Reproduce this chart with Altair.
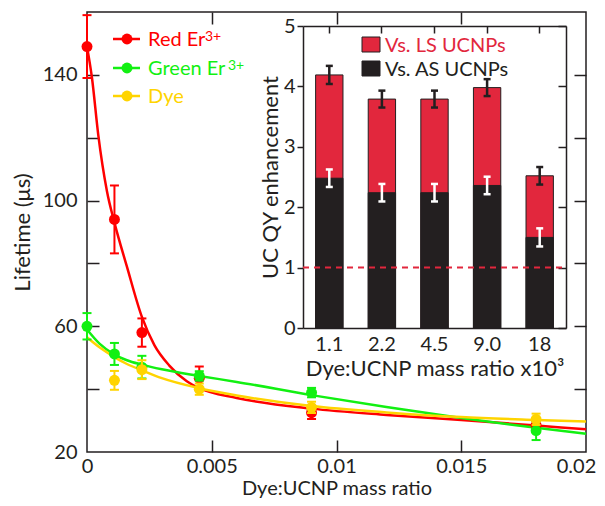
import altair as alt
import pandas as pd

FONT = "Lato"
LFS = 20   # tick labels
TFS = 22   # axis titles
DARK = "#231f20"
RED = "#ff0000"
GREEN = "#12f012"
YELLOW = "#ffd400"
BAR_RED = "#e2273d"

W, H = 499, 440

# ---------------- main panel data ----------------
x_points = [0.0, 0.0011, 0.0022, 0.0045, 0.009, 0.018]
red_life = [149.0, 94.0, 58.0, 43.5, 32.5, 28.5]
red_err = [10.0, 10.8, 4.5, 3.7, 2.0, 1.5]
green_life = [60.0, 51.2, 47.0, 44.2, 38.9, 26.8]
green_err = [4.2, 3.5, 3.6, 1.5, 1.5, 3.0]
dye_x = [0.0011, 0.0022, 0.0045, 0.009, 0.018]
dye_life = [42.8, 46.2, 40.0, 34.2, 30.4]
dye_err = [3.0, 3.0, 1.8, 1.8, 1.8]

red_fit_x = [0, 0.0002, 0.00045, 0.0008, 0.0011, 0.0016, 0.0022, 0.0027, 0.0033,
             0.004, 0.0045, 0.006, 0.009, 0.012, 0.015, 0.018, 0.02]
red_fit_y = [149, 139, 121, 103, 93, 79, 63, 54, 47.5, 42.5, 40.3, 37.2, 33.8,
             31.8, 30.2, 28.4, 27.2]
green_fit_x = [0, 0.0005, 0.0011, 0.0016, 0.0022, 0.003, 0.0045, 0.006, 0.009,
               0.012, 0.015, 0.018, 0.02]
green_fit_y = [59, 54.5, 51, 49.2, 47.8, 46.3, 44.2, 42.3, 38.1, 34.3, 30.8, 27.7, 25.8]
dye_fit_x = [0, 0.0005, 0.0011, 0.0016, 0.0022, 0.003, 0.0045, 0.006, 0.009,
             0.012, 0.015, 0.018, 0.02]
dye_fit_y = [56.5, 53.3, 50.2, 48, 46, 43.5, 40.3, 38, 34.6, 32.6, 31.1, 30.2, 29.7]

legend_labels = ["Red Er", "Green Er", "Dye"]
legend_sup = ["3+", "3+", ""]
legend_colors = [RED, GREEN, YELLOW]

# ---------------- inset data ----------------
ratio_labels = ["1.1", "2.2", "4.5", "9.0", "18"]
vs_ls = [4.19, 3.79, 3.79, 3.98, 2.52]
vs_ls_err = [0.15, 0.14, 0.14, 0.14, 0.145]
vs_as = [2.48, 2.24, 2.24, 2.36, 1.50]
vs_as_err = [0.145, 0.145, 0.145, 0.145, 0.15]
inset_legend = ["Vs. LS UCNPs", "Vs. AS UCNPs"]
reference_level = [1.0]

# ---------------- helpers ----------------
def axis(**kw):
    base = dict(grid=False, labelFont=FONT, labelFontSize=LFS, labelColor=DARK,
                titleFont=FONT, titleFontSize=TFS, titleFontWeight="normal",
                titleColor=DARK, domainColor=DARK, tickColor=DARK,
                labelOverlap=False, labelFlush=False)
    base.update(kw)
    return alt.Axis(**base)


def tick_axis(orient, offset, values, size, domain=False):
    return axis(orient=orient, offset=offset, values=values, labels=False,
                domain=domain, domainWidth=1.5, ticks=True, tickSize=size,
                tickWidth=1.5, title=None)


MX = alt.Scale(domain=[0, 0.02], nice=False, zero=False)
MY = alt.Scale(domain=[20, 160], nice=False, zero=False)
IX = alt.Scale(domain=ratio_labels, range=[216, 479], paddingInner=0.48, paddingOuter=0.24)
IY = alt.Scale(domain=[0, 5], range=[316, 14], nice=False)

xt = [0.005, 0.01, 0.015]
yt = [40, 60, 80, 100, 120, 140]

layers = []

# fit curves (carry the main axes)
fits = [
    (red_fit_x, red_fit_y, RED,
     axis(orient="bottom", values=[0, 0.005, 0.01, 0.015, 0.02], format="~g",
          ticks=False, tickSize=0, domain=False, labelPadding=4, titlePadding=2,
          titleFontSize=20,
          labelOffset={"expr": "datum.value >= 0.02 ? -10 : 0"}),
     axis(orient="left", values=[20, 60, 100, 140], ticks=False, tickSize=0,
          domain=False, labelPadding=10, titlePadding=8),
     "Dye:UCNP mass ratio", "Lifetime (\u03bcs)"),
    (green_fit_x, green_fit_y, GREEN,
     tick_axis("bottom", -H, xt, 12), tick_axis("right", -W, yt, 12), None, None),
    (dye_fit_x, dye_fit_y, YELLOW,
     tick_axis("top", -H, xt, 12), tick_axis("left", -W, yt, 12), None, None),
]
for fx, fy, col, ax_x, ax_y, tx, ty in fits:
    df = pd.DataFrame({"x": fx, "y": fy})
    layers.append(
        alt.Chart(df).mark_line(color=col, strokeWidth=2.5, interpolate="monotone").encode(
            x=alt.X("x:Q", scale=MX, axis=ax_x, title=tx),
            y=alt.Y("y:Q", scale=MY, axis=ax_y, title=ty),
        )
    )


def error_layers(xs, vals, errs, col, xscale, yscale, xtype, cap, sw):
    df = pd.DataFrame({"x": xs, "lo": [v - e for v, e in zip(vals, errs)],
                       "hi": [v + e for v, e in zip(vals, errs)]})
    stem = alt.Chart(df).mark_rule(color=col, strokeWidth=sw).encode(
        x=alt.X("x:" + xtype, scale=xscale, axis=None),
        y=alt.Y("lo:Q", scale=yscale, axis=None),
        y2="hi:Q",
    )
    caps_df = pd.DataFrame({"x": list(df["x"]) * 2, "v": list(df["lo"]) + list(df["hi"])})
    caps = alt.Chart(caps_df).mark_point(shape="M-1,0L1,0", size=cap * cap, filled=False,
                                         color=col, strokeWidth=sw, opacity=1).encode(
        x=alt.X("x:" + xtype, scale=xscale, axis=None),
        y=alt.Y("v:Q", scale=yscale, axis=None),
    )
    return [stem, caps]


series = [
    (x_points, red_life, red_err, RED),
    (x_points, green_life, green_err, GREEN),
    (dye_x, dye_life, dye_err, YELLOW),
]
for xs, vals, errs, col in series:
    layers += error_layers(xs, vals, errs, col, MX, MY, "Q", 9, 2)
    df = pd.DataFrame({"x": xs, "y": vals})
    layers.append(
        alt.Chart(df).mark_circle(size=120, color=col, opacity=1).encode(
            x=alt.X("x:Q", scale=MX, axis=None),
            y=alt.Y("y:Q", scale=MY, axis=None),
        )
    )

# main legend
leg_y = [27, 56, 84]
sup_dx = [57, 80, 0]
for i, (lab, sup, col) in enumerate(zip(legend_labels, legend_sup, legend_colors)):
    d = pd.DataFrame({"t": [lab], "s": [sup]})
    layers.append(alt.Chart(d).mark_rule(color=col, strokeWidth=2.5).encode(
        x=alt.value(26), x2=alt.value(53), y=alt.value(leg_y[i])))
    layers.append(alt.Chart(d).mark_circle(size=120, color=col, opacity=1).encode(
        x=alt.value(40), y=alt.value(leg_y[i])))
    layers.append(alt.Chart(d).mark_text(align="left", baseline="alphabetic", font=FONT,
                                         fontSize=20, color=col).encode(
        x=alt.value(61), y=alt.value(leg_y[i] + 7), text="t:N"))
    if sup:
        layers.append(alt.Chart(d).mark_text(align="left", baseline="alphabetic", font=FONT,
                                             fontSize=14, color=col).encode(
            x=alt.value(61 + sup_dx[i]), y=alt.value(leg_y[i] + 2), text="s:N"))

# ---------------- inset ----------------
bars = pd.DataFrame({"cat": ratio_labels, "ls": vs_ls, "as_": vs_as})
layers.append(
    alt.Chart(bars).mark_bar(color=BAR_RED, stroke=DARK, strokeWidth=1).encode(
        x=alt.X("cat:N", scale=IX, sort=ratio_labels,
                axis=axis(orient="bottom", offset=-(H - 316), labelAngle=0, ticks=False,
                          tickSize=0, domain=True, domainWidth=1.5, labelPadding=6,
                          titlePadding=4),
                title="Dye:UCNP mass ratio x10\u00b3"),
        y=alt.Y("ls:Q", scale=IY,
                axis=axis(orient="left", offset=-216, values=[0, 1, 2, 3, 4, 5],
                          ticks=True, tickSize=6, tickWidth=1.5, domain=True,
                          domainWidth=1.5, labelPadding=2, titlePadding=1),
                title="UC QY enhancement"),
    )
)
layers.append(
    alt.Chart(bars).mark_bar(color=DARK, stroke=DARK, strokeWidth=1).encode(
        x=alt.X("cat:N", scale=IX, sort=ratio_labels,
                axis=axis(orient="bottom", offset=14 - H, labels=False, domain=True,
                          domainWidth=1.5, ticks=True, tickSize=7, tickWidth=1.5,
                          title=None)),
        y=alt.Y("as_:Q", scale=IY,
                axis=axis(orient="left", offset=-479, values=[0, 1, 2, 3, 4, 5],
                          labels=False, domain=True, domainWidth=1.5, ticks=True,
                          tickSize=8, tickWidth=1.5, title=None)),
    )
)
layers.append(
    alt.Chart(pd.DataFrame({"level": reference_level})).mark_rule(
        color=BAR_RED, strokeDash=[6, 5], strokeWidth=2).encode(
        y=alt.Y("level:Q", scale=IY, axis=None), x=alt.value(216), x2=alt.value(479))
)
layers += error_layers(ratio_labels, vs_ls, vs_ls_err, DARK, IX, IY, "N", 7, 2.5)
layers += error_layers(ratio_labels, vs_as, vs_as_err, "#ffffff", IX, IY, "N", 7, 2.5)

# inset legend
for i, (lab, col) in enumerate(zip(inset_legend, [BAR_RED, DARK])):
    d = pd.DataFrame({"t": [lab]})
    y0 = [25, 49][i]
    layers.append(alt.Chart(d).mark_rect(color=col, stroke=DARK, strokeWidth=1).encode(
        x=alt.value(275), x2=alt.value(293), y=alt.value(y0), y2=alt.value(y0 + 15)))
    layers.append(alt.Chart(d).mark_text(align="left", baseline="alphabetic", font=FONT,
                                         fontSize=20, color=col).encode(
        x=alt.value(298), y=alt.value(y0 + 15), text="t:N"))

chart = alt.layer(*layers).resolve_scale(x="independent", y="independent").properties(
    width=W, height=H,
    padding={"left": 79, "top": 4, "right": 11, "bottom": 46},
    autosize=alt.AutoSizeParams(type="none"),
).configure_view(stroke=DARK, strokeWidth=1.5)

chart.save("out.html", embed_options={"renderer": "svg", "actions": False})
